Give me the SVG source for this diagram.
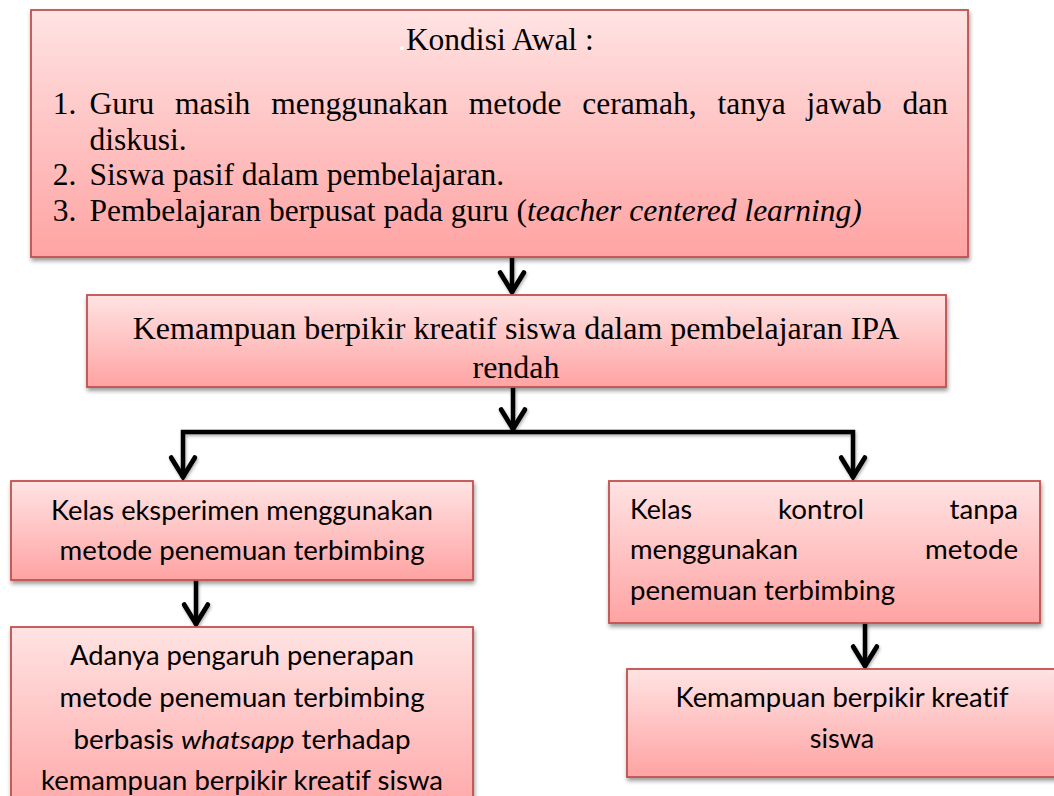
<svg xmlns="http://www.w3.org/2000/svg" width="1054" height="796" viewBox="0 0 1054 796">
  <defs>
    <linearGradient id="boxGrad" x1="0" y1="0" x2="0" y2="1">
      <stop offset="0" stop-color="#FFE3E3"/>
      <stop offset="1" stop-color="#FFA3A3"/>
    </linearGradient>
    <filter id="shadow" x="-5%" y="-5%" width="110%" height="120%">
      <feDropShadow dx="1" dy="3" stdDeviation="2" flood-color="#000" flood-opacity="0.4"/>
    </filter>
    <filter id="lineShadow" x="-5%" y="-20%" width="110%" height="140%">
      <feDropShadow dx="1" dy="2" stdDeviation="1.5" flood-color="#000" flood-opacity="0.3"/>
    </filter>
    <marker id="arrow" markerUnits="userSpaceOnUse" markerWidth="30" markerHeight="30" refX="0" refY="0" viewBox="-24 -14 28 28" orient="auto" overflow="visible">
      <path d="M-19,-11 L-1,0 L-19,11" fill="none" stroke="#000" stroke-width="4.5" stroke-linejoin="miter" stroke-linecap="round"/>
    </marker>
  </defs>
  <style>
    .box { fill: url(#boxGrad); stroke: #C0504D; stroke-width: 1.8; filter: url(#shadow); }
    .serif { font-family: 'Liberation Serif', 'Times New Roman', serif; fill: #000; }
    .sans { font-family: Lato, 'Open Sans', sans-serif; font-size: 26px; fill: #000; font-variant-ligatures: none; }
    .conn { fill: none; stroke: #000; stroke-width: 4.5; marker-end: url(#arrow); }
  </style>

  <rect width="1054" height="796" fill="#fff"/>

  <g id="connectors" filter="url(#lineShadow)">
    <path class="conn" d="M512,257 V293"/>
    <path class="conn" d="M513,387 V430"/>
    <path class="conn" d="M513,432 H183 V478"/>
    <path class="conn" d="M513,432 H853 V478"/>
    <path class="conn" d="M196,580 V625"/>
    <path class="conn" d="M865,623 V667"/>
  </g>

  <g id="node-kondisi-awal">
    <rect class="box" x="31" y="10" width="937" height="247"/>
    <text class="serif" font-size="31.5" x="398" y="50"><tspan fill="#fff">.</tspan>Kondisi Awal :</text>
    <text class="serif" font-size="31.5" y="114"><tspan x="52.7">1.</tspan><tspan x="89.6">Guru</tspan><tspan x="175.1">masih</tspan><tspan x="271.2">menggunakan</tspan><tspan x="468.7">metode</tspan><tspan x="582.2">ceramah,</tspan><tspan x="717.6">tanya</tspan><tspan x="806.6">jawab</tspan><tspan x="902.6">dan</tspan></text>
    <text class="serif" font-size="31.5" x="89.6" y="149.5">diskusi.</text>
    <text class="serif" font-size="31.5" y="185"><tspan x="52.7">2.</tspan><tspan x="89.6">Siswa pasif dalam pembelajaran.</tspan></text>
    <text class="serif" font-size="31.5" y="220.5"><tspan x="52.7">3.</tspan><tspan x="89.6">Pembelajaran berpusat pada guru (</tspan><tspan font-style="italic">teacher centered learning)</tspan></text>
  </g>

  <g id="node-kemampuan-rendah">
    <rect class="box" x="87" y="295" width="859" height="92"/>
    <text class="serif" font-size="32" x="516" y="339" text-anchor="middle">Kemampuan berpikir kreatif siswa dalam pembelajaran IPA</text>
    <text class="serif" font-size="32" x="516" y="378" text-anchor="middle">rendah</text>
  </g>

  <g id="node-kelas-eksperimen">
    <rect class="box" x="11" y="481" width="462" height="99"/>
    <text class="sans" x="242" y="519.5" text-anchor="middle" textLength="382" lengthAdjust="spacingAndGlyphs">Kelas eksperimen menggunakan</text>
    <text class="sans" x="242" y="560" text-anchor="middle" textLength="365" lengthAdjust="spacingAndGlyphs">metode penemuan terbimbing</text>
  </g>

  <g id="node-pengaruh">
    <rect class="box" x="11" y="627" width="462" height="200"/>
    <text class="sans" x="242" y="665" text-anchor="middle" textLength="344" lengthAdjust="spacingAndGlyphs">Adanya pengaruh penerapan</text>
    <text class="sans" x="242" y="707" text-anchor="middle" textLength="365" lengthAdjust="spacingAndGlyphs">metode penemuan terbimbing</text>
    <text class="sans" x="242" y="749" text-anchor="middle" textLength="337" lengthAdjust="spacingAndGlyphs">berbasis <tspan font-style="italic">whatsapp</tspan> terhadap</text>
    <text class="sans" x="242" y="790" text-anchor="middle" textLength="402" lengthAdjust="spacingAndGlyphs">kemampuan berpikir kreatif siswa</text>
  </g>

  <g id="node-kelas-kontrol">
    <rect class="box" x="609" y="481" width="431" height="142"/>
    <text class="sans" x="630" y="518.5" textLength="62" lengthAdjust="spacingAndGlyphs">Kelas</text>
    <text class="sans" x="778" y="518.5" textLength="86" lengthAdjust="spacingAndGlyphs">kontrol</text>
    <text class="sans" x="949.6" y="518.5" textLength="68.4" lengthAdjust="spacingAndGlyphs">tanpa</text>
    <text class="sans" x="630" y="558.5" textLength="168" lengthAdjust="spacingAndGlyphs">menggunakan</text>
    <text class="sans" x="925.1" y="558.5" textLength="92.9" lengthAdjust="spacingAndGlyphs">metode</text>
    <text class="sans" x="630" y="600" textLength="265" lengthAdjust="spacingAndGlyphs">penemuan terbimbing</text>
  </g>

  <g id="node-kemampuan-siswa">
    <rect class="box" x="627" y="669" width="431" height="108"/>
    <text class="sans" x="842" y="707" text-anchor="middle" textLength="333" lengthAdjust="spacingAndGlyphs">Kemampuan berpikir kreatif</text>
    <text class="sans" x="842" y="748" text-anchor="middle" textLength="64.4" lengthAdjust="spacingAndGlyphs">siswa</text>
  </g>
</svg>
